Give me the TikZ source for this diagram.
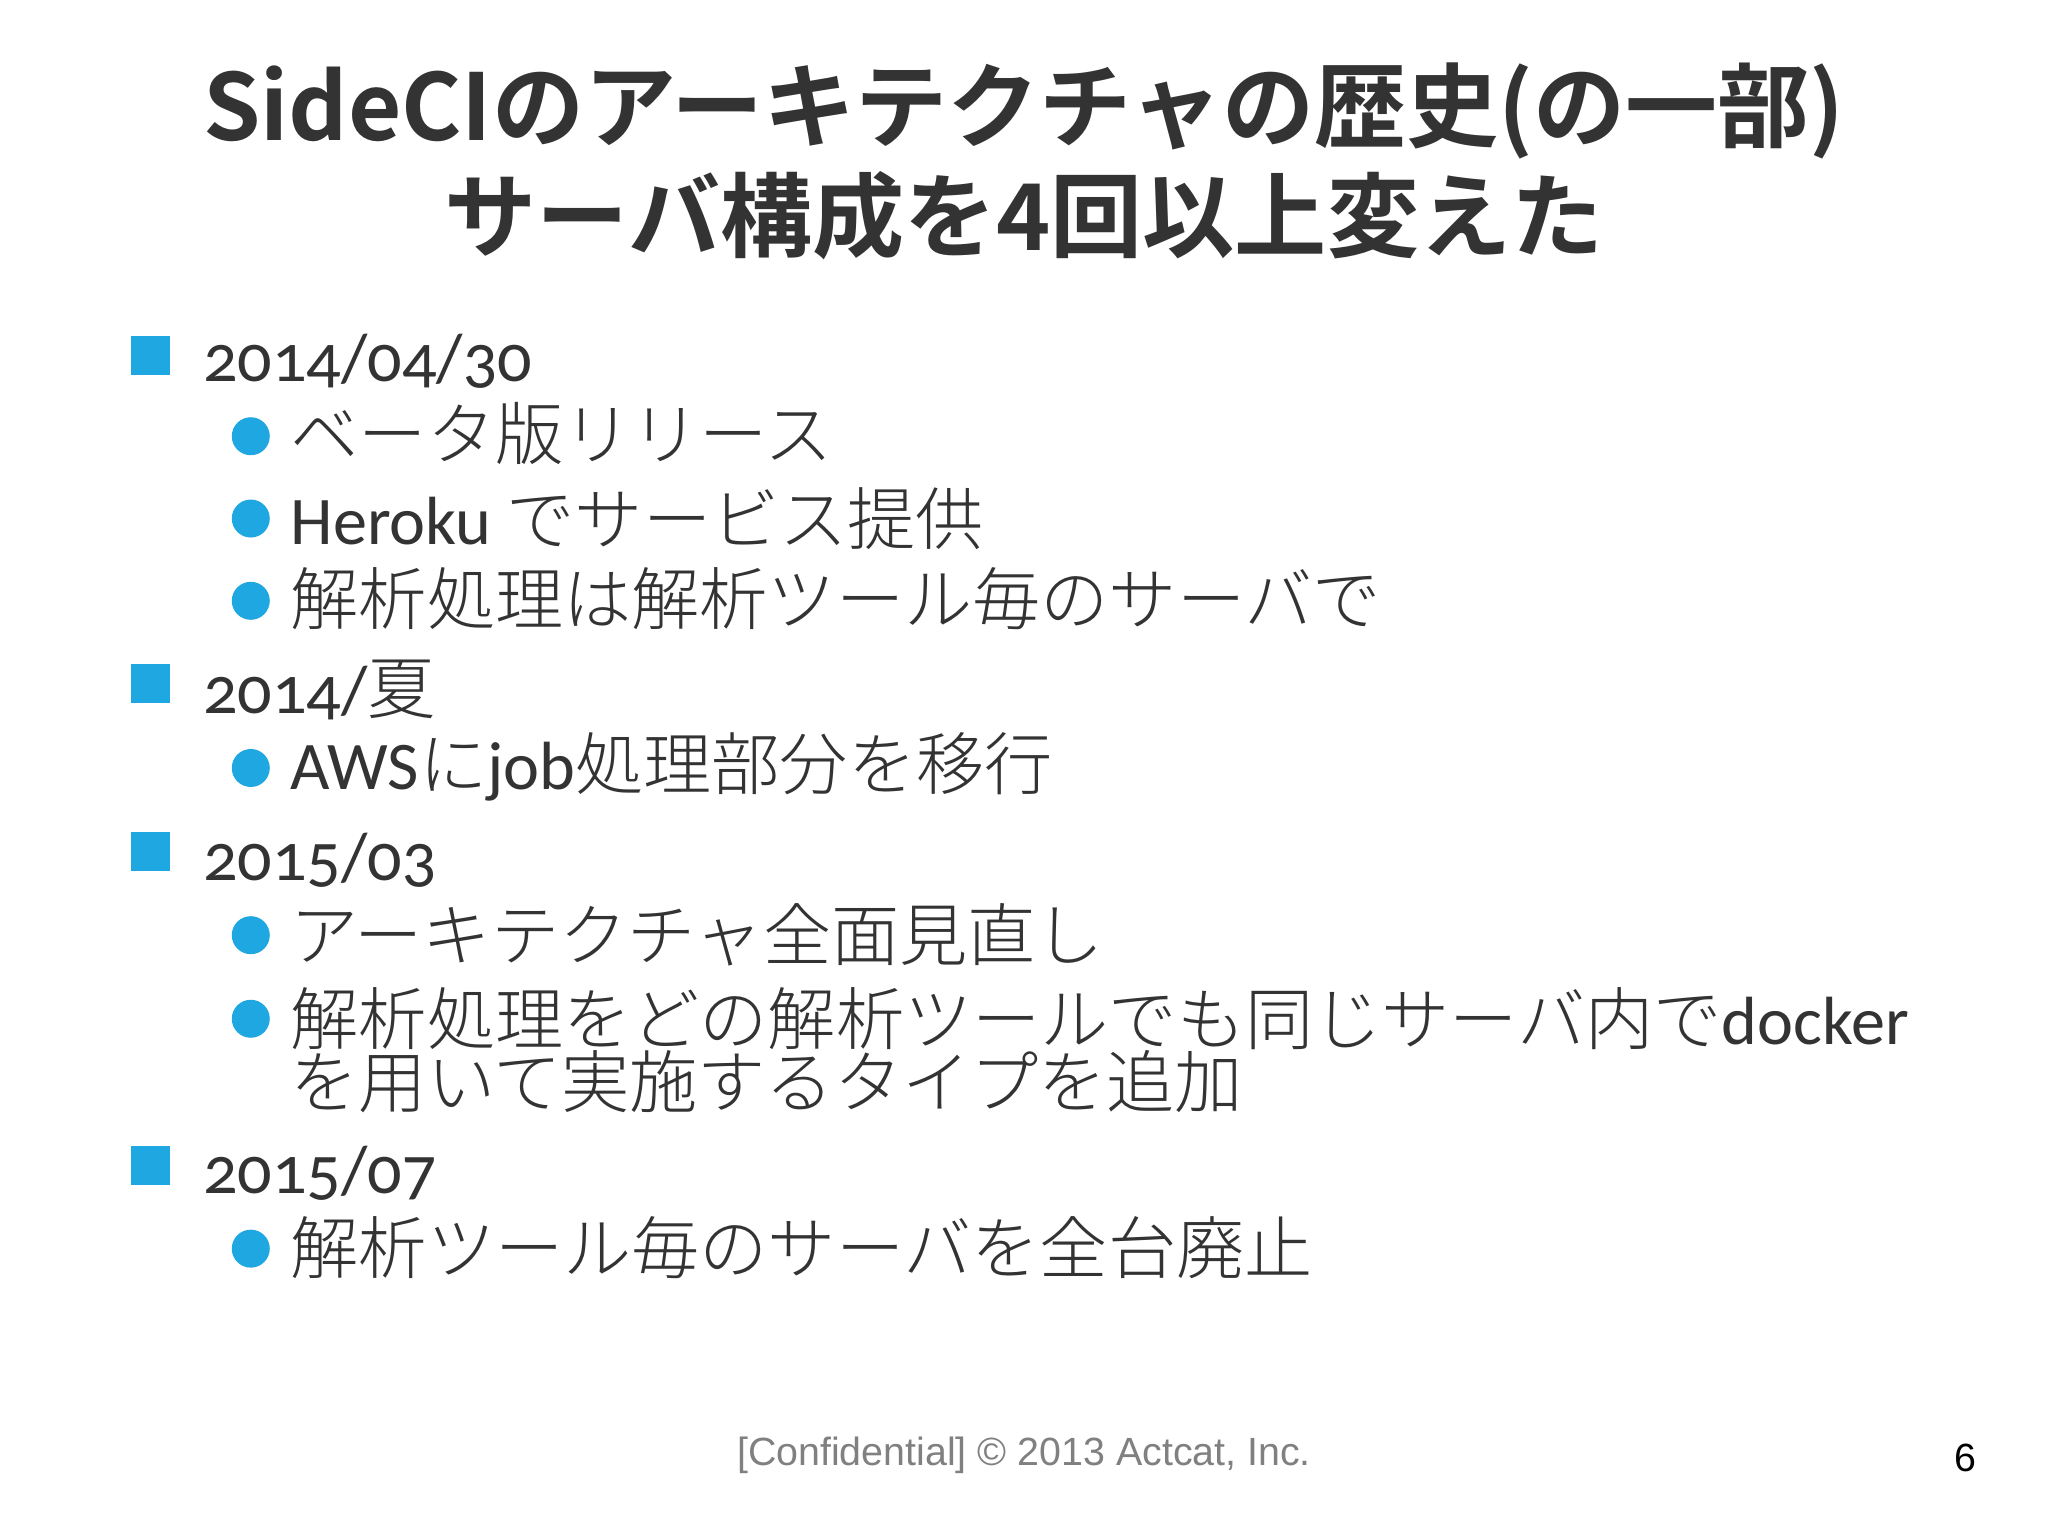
\documentclass[tikz,border=0pt]{standalone}
\usepackage{fontspec}
\setmainfont{Noto Sans CJK JP}
\newfontfamily\jp{Noto Sans CJK JP Light}
\newfontfamily\jpb{Noto Sans CJK JP Bold}
\newfontfamily\lat[Numbers=OldStyle]{Carlito}
\newfontfamily\foot{Liberation Sans}
\newcommand{\Lt}[1]{{\lat #1}}
\definecolor{bl}{HTML}{1FA7E1}
\definecolor{tx}{HTML}{333333}
\begin{document}
\begin{tikzpicture}[x=0.01306cm,y=-0.01306cm,
  sq/.style={fill=bl,minimum size=0.39cm,inner sep=0pt},
  dot/.style={circle,fill=bl,minimum size=0.38cm,inner sep=0pt},
  item/.style={anchor=west,inner sep=0pt,text=tx,font=\jp\fontsize{19.4}{21}\selectfont,align=left},
  ttl/.style={text=tx,font=\jpb\fontsize{26.2}{30}\selectfont,inner sep=0pt}]
\useasboundingbox (0,0) rectangle (1568,1176);
\fill[white] (0,0) rectangle (1568,1176);
\node[ttl] (t1) at (784,85) {SideCIのアーキテクチャの歴史(の一部)};
\node[ttl] (t2) at (784,165) {サーバ構成を4回以上変えた};
\node[sq] (s1) at (115,272) {}; \node[item] (a1) at (155,277) {\Lt{2014/04/30}};
\node[dot] (d1) at (192,334) {}; \node[item] (b1) at (222,332) {ベータ版リリース};
\node[dot] (d2) at (192,397) {}; \node[item] (b2) at (222,397) {\Lt{Heroku} でサービス提供};
\node[dot] (d3) at (192,460) {}; \node[item] (b3) at (222,458) {解析処理は解析ツール毎のサーバで};
\node[sq] (s2) at (115,523) {}; \node[item] (a2) at (155,528) {\Lt{2014/}夏};
\node[dot] (d4) at (192,588) {}; \node[item] (b4) at (222,587) {\Lt{AWS}に\Lt{job}処理部分を移行};
\node[sq] (s3) at (115,652) {}; \node[item] (a3) at (155,659) {\Lt{2015/03}};
\node[dot] (d5) at (192,716) {}; \node[item] (b5) at (222,716) {アーキテクチャ全面見直し};
\node[dot] (d6) at (192,780) {}; \node[item] (b6) at (222,780) {解析処理をどの解析ツールでも同じサーバ内で\Lt{docker}};
\node[item] (b6b) at (222,828) {を用いて実施するタイプを追加};
\node[sq] (s4) at (115,892) {}; \node[item] (a4) at (155,898) {\Lt{2015/07}};
\node[dot] (d7) at (192,956) {}; \node[item] (b7) at (222,955) {解析ツール毎のサーバを全台廃止};
\node[text=gray,font=\foot\fontsize{11.2}{13}\selectfont] (f) at (784,1114) {[Confidential] © 2013 Actcat, Inc.};
\node[text=black,font=\foot\fontsize{11.2}{13}\selectfont] (n) at (1505,1116) {6};
\end{tikzpicture}
\end{document}
